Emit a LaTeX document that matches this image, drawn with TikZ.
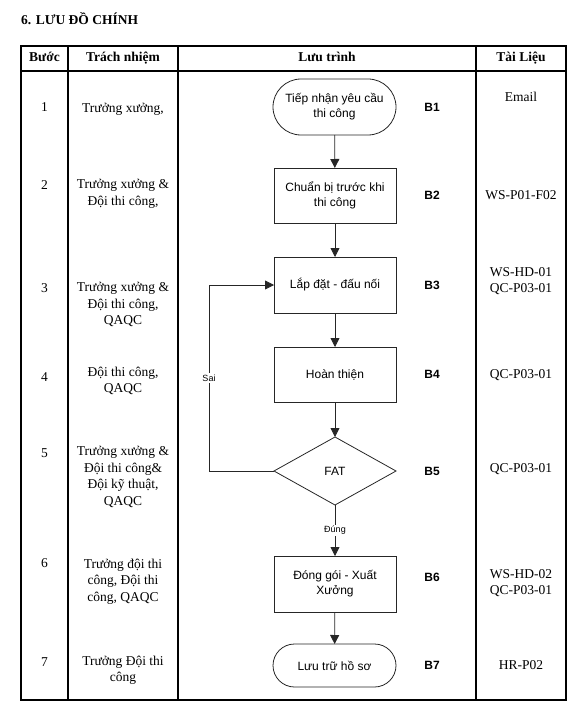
\documentclass[tikz,border=0pt]{standalone}
\usepackage{fontspec}
\setmainfont{Liberation Serif}
\newfontfamily\flowsans{Liberation Sans}
\usetikzlibrary{arrows.meta,shapes.geometric,shapes.misc}
\tikzset{
  tbl/.style={line width=1.1pt, draw=black},
  cell/.style={font=\fontsize{13.5}{16.5}\selectfont, align=center, inner sep=0pt},
  hdr/.style={font=\fontsize{13.5}{16.5}\selectfont\bfseries, inner sep=0pt, text height=10pt, text depth=3pt},
  procbox/.style={draw=black!85, line width=0.8pt, rectangle, minimum width=122pt, minimum height=55pt, inner sep=0pt, outer sep=0pt, align=center, font=\flowsans\fontsize{12}{15}\selectfont},
  termbox/.style={draw=black!85, line width=0.8pt, rounded rectangle, minimum width=123pt, minimum height=56pt, inner sep=0pt, outer sep=0pt, align=center, font=\flowsans\fontsize{12}{15}\selectfont},
  decbox/.style={draw=black!85, line width=0.8pt, diamond, aspect=1.79, minimum width=122pt, minimum height=68pt, inner sep=0pt, outer sep=0pt, font=\flowsans\fontsize{12}{15}\selectfont},
  blabel/.style={font=\flowsans\bfseries\fontsize{12}{14}\selectfont, inner sep=0pt},
  flow/.style={draw=black!85, line width=0.8pt, -{Triangle[length=9pt,width=9pt]}},
  edgelbl/.style={fill=white, font=\flowsans\fontsize{9}{11}\selectfont, inner sep=1.5pt},
}
\begin{document}
\begin{tikzpicture}[x=1pt,y=-1pt]
\useasboundingbox (0,0) rectangle (587,714);
% title
\node[anchor=west, font=\fontsize{13.5}{16}\selectfont\bfseries, inner sep=0pt] (title) at (21,19) {6. LƯU ĐỒ CHÍNH};
% table frame
\draw[tbl] (21,46) rectangle (566,700);
\draw[tbl] (21,71) -- (566,71);
\draw[tbl] (68,46) -- (68,700);
\draw[tbl] (178,46) -- (178,700);
\draw[tbl] (476,46) -- (476,700);
% headers
\node[hdr] (hstep) at (44.5,58.5) {Bước};
\node[hdr] (hresp) at (123,58.5) {Trách nhiệm};
\node[hdr] (hflow) at (327,58.5) {Lưu trình};
\node[hdr] (hdoc) at (521,58.5) {Tài Liệu};
% step numbers
\node[cell] (s1) at (44.5,107) {1};
\node[cell] (s2) at (44.5,185) {2};
\node[cell] (s3) at (44.5,288) {3};
\node[cell] (s4) at (44.5,377) {4};
\node[cell] (s5) at (44.5,453) {5};
\node[cell] (s6) at (44.5,563) {6};
\node[cell] (s7) at (44.5,662) {7};
% responsibilities
\node[cell] (r1) at (123,109) {Trưởng xưởng,};
\node[cell] (r2) at (123,194) {Trưởng xưởng \&\\Đội thi công,};
\node[cell] (r3) at (123,304.5) {Trưởng xưởng \&\\Đội thi công,\\QAQC};
\node[cell] (r4) at (123,381) {Đội thi công,\\QAQC};
\node[cell] (r5) at (123,477) {Trưởng xưởng \&\\Đội thi công\&\\Đội kỹ thuật,\\QAQC};
\node[cell] (r6) at (123,581.5) {Trưởng đội thi\\công, Đội thi\\công, QAQC};
\node[cell] (r7) at (123,670.5) {Trưởng Đội thi\\công};
% documents
\node[cell] (d1) at (521,97) {Email};
\node[cell] (d2) at (521,195) {WS-P01-F02};
\node[cell] (d3) at (521,281) {WS-HD-01\\QC-P03-01};
\node[cell] (d4) at (521,375) {QC-P03-01};
\node[cell] (d5) at (521,469) {QC-P03-01};
\node[cell] (d6) at (521,583) {WS-HD-02\\QC-P03-01};
\node[cell] (d7) at (521,665) {HR-P02};
% flowchart shapes
\node[termbox] (B1) at (334.5,107) {Tiếp nhận yêu cầu\\thi công};
\node[procbox] (B2) at (335,195.5) {Chuẩn bị trước khi\\thi công};
\node[procbox, minimum height=56pt] (B3) at (335,285) {Lắp đặt - đấu nối};
\node[procbox] (B4) at (335,374.5) {Hoàn thiện};
\node[decbox] (B5) at (335,471) {FAT};
\node[procbox, minimum height=56pt] (B6) at (335,584) {Đóng gói - Xuất\\Xưởng};
\node[termbox, minimum height=43pt] (B7) at (334.5,665.5) {Lưu trữ hồ sơ};
% step labels
\node[blabel] (l1) at (432,107) {B1};
\node[blabel] (l2) at (432,195) {B2};
\node[blabel] (l3) at (432,285) {B3};
\node[blabel] (l4) at (432,374) {B4};
\node[blabel] (l5) at (432,471) {B5};
\node[blabel] (l6) at (432,577) {B6};
\node[blabel] (l7) at (432,665) {B7};
% connectors
\draw[flow] (B1) -- (B2);
\draw[flow] (B2) -- (B3);
\draw[flow] (B3) -- (B4);
\draw[flow] (B4) -- (B5);
\draw[flow] (B5) -- node[edgelbl, pos=0.5] {Đúng} (B6);
\draw[flow] (B6) -- (B7);
\coordinate (loopc) at (209,471);
\draw[flow] (B5.west) -- (loopc) |- node[edgelbl, pos=0.25] {Sai} (B3.west);
\end{tikzpicture}
\end{document}
